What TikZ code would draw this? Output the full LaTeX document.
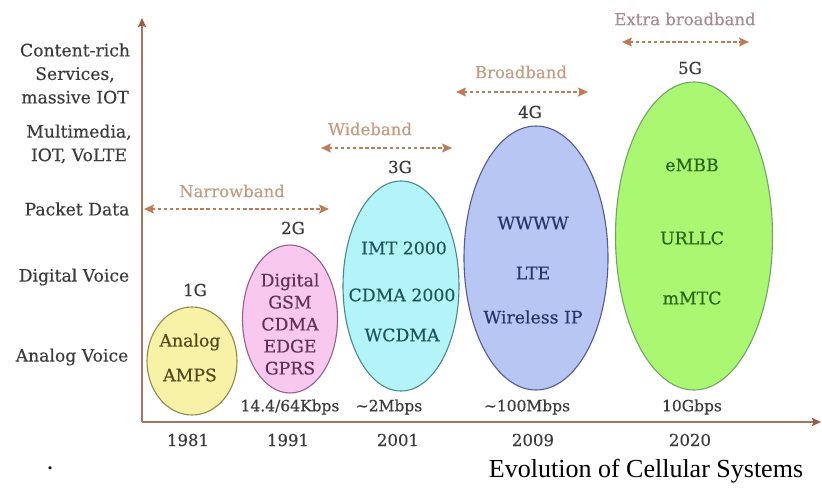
\documentclass[tikz,border=0pt]{standalone}
\usepackage{fontspec}
\setmainfont{DejaVu Serif}
\newfontfamily\heavyserif{DejaVu Serif}[FakeBold=0.35]
\newfontfamily\captionfont{Liberation Serif}
\usetikzlibrary{shapes.geometric,arrows.meta}

\definecolor{axisbrown}{HTML}{A8725E}
\definecolor{tipbrown}{HTML}{9A5A48}
\definecolor{bandline}{HTML}{C07A56}
\definecolor{bandtext}{HTML}{C49C80}
\definecolor{xbandtext}{HTML}{A88A92}
\definecolor{labelgray}{HTML}{3C3C3C}
% generation colours: fill, border, text
\definecolor{gOneFill}{HTML}{F8F2A6}\definecolor{gOneLine}{HTML}{8C8A4E}\definecolor{gOneText}{HTML}{524A1E}
\definecolor{gTwoFill}{HTML}{F8C8EE}\definecolor{gTwoLine}{HTML}{94628C}\definecolor{gTwoText}{HTML}{62305A}
\definecolor{gThrFill}{HTML}{B2F4F8}\definecolor{gThrLine}{HTML}{4C8888}\definecolor{gThrText}{HTML}{1E545A}
\definecolor{gFouFill}{HTML}{B8C6F4}\definecolor{gFouLine}{HTML}{525C90}\definecolor{gFouText}{HTML}{26346A}
\definecolor{gFivFill}{HTML}{AAF872}\definecolor{gFivLine}{HTML}{72A266}\definecolor{gFivText}{HTML}{2A641A}

\tikzset{
  axisline/.style={draw=axisbrown, line width=1.8pt,
    -{Stealth[length=9pt,width=8pt,inset=1.5pt,color=tipbrown]}},
  bandarrow/.style={draw=bandline, line width=1.5pt, dash pattern=on 3.5pt off 2.6pt,
    {Stealth[length=10pt,width=9pt,inset=2pt]}-{Stealth[length=10pt,width=9pt,inset=2pt]}},
  bandlabel/.style={font=\heavyserif\fontsize{16.5}{19}\selectfont, text=bandtext},
  genshape/.style={shape=ellipse, line width=1.1pt, inner sep=0pt},
  genlabel/.style={font=\heavyserif\fontsize{16.5}{19}\selectfont, text=labelgray},
  ylabel/.style={font=\heavyserif\fontsize{17.2}{23.5}\selectfont, text=labelgray, align=center},
  speed/.style={font=\heavyserif\fontsize{15.5}{18}\selectfont, text=labelgray},
  year/.style={font=\heavyserif\fontsize{16.5}{19}\selectfont, text=labelgray},
  inner/.style={font=\heavyserif\fontsize{17.3}{20}\selectfont}
}

\begin{document}
\begin{tikzpicture}[x=1pt,y=-1pt]
\path[use as bounding box, fill=white] (0,0) rectangle (822,490);

% ---- generation ellipses
\node[genshape, fill=gOneFill, draw=gOneLine, minimum width=90pt, minimum height=108pt] (g1) at (192,361) {};
\node[genshape, fill=gTwoFill, draw=gTwoLine, minimum width=95pt, minimum height=148pt] (g2) at (290,319) {};
\node[genshape, fill=gThrFill, draw=gThrLine, minimum width=116pt, minimum height=210pt] (g3) at (401,286) {};
\node[genshape, fill=gFouFill, draw=gFouLine, minimum width=144pt, minimum height=264pt] (g4) at (536,258) {};
\node[genshape, fill=gFivFill, draw=gFivLine, minimum width=157pt, minimum height=308pt] (g5) at (694,236) {};

% ---- axes
\coordinate (origin) at (142,422);
\coordinate (ytop) at (142,18);
\coordinate (xend) at (821,422);
\draw[axisline] (origin) -- (ytop);
\draw[axisline] (origin) -- (xend);

% ---- vertical axis labels
\node[ylabel] (yl5) at (75,73.5) {Content-rich\\Services,\\massive IOT};
\node[ylabel] (yl4) at (79,144) {Multimedia,\\IOT, VoLTE};
\node[ylabel] (yl3) at (77,209) {Packet Data};
\node[ylabel] (yl2) at (74,277) {Digital Voice};
\node[ylabel] (yl1) at (72,357) {Analog Voice};

% ---- bandwidth ranges
\coordinate (nbL) at (144,209); \coordinate (nbR) at (329,209);
\coordinate (wbL) at (321,148); \coordinate (wbR) at (452,148);
\coordinate (bbL) at (456,92);  \coordinate (bbR) at (588,92);
\coordinate (xbL) at (622,42);  \coordinate (xbR) at (749,42);
\draw[bandarrow] (nbL) -- (nbR);
\draw[bandarrow] (wbL) -- (wbR);
\draw[bandarrow] (bbL) -- (bbR);
\draw[bandarrow] (xbL) -- (xbR);
\node[bandlabel] (nb) at (232,191) {Narrowband};
\node[bandlabel] (wb) at (370,129) {Wideband};
\node[bandlabel] (bb) at (521,72) {Broadband};
\node[bandlabel, text=xbandtext] (xb) at (685,19) {Extra broadband};

% ---- generation names
\node[genlabel] (n1) at (195,290) {1G};
\node[genlabel] (n2) at (293,228) {2G};
\node[genlabel] (n3) at (400,167) {3G};
\node[genlabel] (n4) at (530,112) {4G};
\node[genlabel] (n5) at (690,68) {5G};

% ---- technologies inside each generation
\node[inner, text=gOneText] (t1a) at (190,342) {Analog};
\node[inner, text=gOneText] (t1b) at (190,375) {AMPS};
\node[inner, text=gTwoText, align=center, font=\heavyserif\fontsize{17.3}{22}\selectfont] (t2) at (290,324)
  {Digital\\GSM\\CDMA\\EDGE\\GPRS};
\node[inner, text=gThrText] (t3a) at (404,248) {IMT 2000};
\node[inner, text=gThrText] (t3b) at (402,295) {CDMA 2000};
\node[inner, text=gThrText] (t3c) at (402,335) {WCDMA};
\node[inner, text=gFouText] (t4a) at (533,223) {WWWW};
\node[inner, text=gFouText] (t4b) at (533,273) {LTE};
\node[inner, text=gFouText] (t4c) at (533,317) {Wireless IP};
\node[inner, text=gFivText] (t5a) at (692,165) {eMBB};
\node[inner, text=gFivText] (t5b) at (692,238) {URLLC};
\node[inner, text=gFivText] (t5c) at (692,298) {mMTC};

% ---- data rates
\node[speed] (s2) at (290,407) {14.4/64Kbps};
\node[speed] (s3) at (389,407) {\textasciitilde2Mbps};
\node[speed] (s4) at (527,407) {\textasciitilde100Mbps};
\node[speed] (s5) at (692,407) {10Gbps};

% ---- years
\node[year] (y1) at (188,440) {1981};
\node[year] (y2) at (288,440) {1991};
\node[year] (y3) at (398,440) {2001};
\node[year] (y4) at (533,440) {2009};
\node[year] (y5) at (690,440) {2020};

% ---- caption
\node[font=\captionfont\fontsize{26}{30}\selectfont] (dot) at (50,468) {.};
\node[font=\captionfont\fontsize{26}{30}\selectfont] (cap) at (646,471) {Evolution of Cellular Systems};
\end{tikzpicture}
\end{document}
